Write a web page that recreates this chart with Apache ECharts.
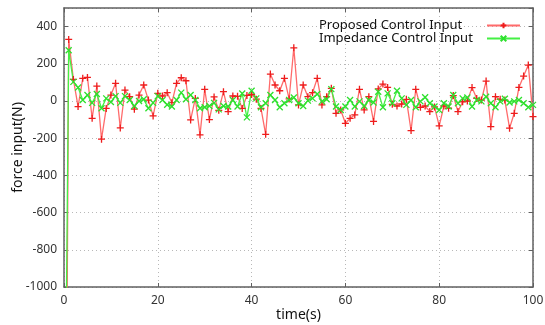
<!DOCTYPE html>
<html>
<head>
<meta charset="utf-8">
<script src="https://cdn.jsdelivr.net/npm/echarts@6/dist/echarts.min.js"></script>
<style>
html, body { margin:0; padding:0; background:#fff; }
#chart { width:545px; height:325px; }
</style>
</head>
<body>
<div id="chart"></div>
<script>
// time axis ticks and force axis ticks
const xTicks = [0, 20, 40, 60, 80, 100];
const yTicks = [-1000, -800, -600, -400, -200, 0, 200, 400];
const yMax = 500;

// one sample per second, t = 0..100 (t=0 lies far below the axis)
const proposed = [
    -4000, 331, 116, -30, 122, 127, -93, 80, -205, -40,
    32, 95, -145, 59, 23, -44, 32, 86, 5, -80,
    41, 27, 45, -9, 95, 125, 109, -102, 14, -182,
    63, -100, 22, -50, 50, -57, 27, 25, -40, 30,
    35, 10, -40, -179, 145, 86, 55, 122, 11, 286,
    -21, 86, 23, 45, 122, -21, 23, 68, -66, -48,
    -120, -93, -75, 63, -48, 23, -110, 65, 91, 73,
    -18, -27, -16, 9, -159, 63, -34, -27, -57, -32,
    -134, -27, -39, 29, -57, -4, 0, 72, 14, 5,
    107, -138, 23, 9, 5, -146, -66, 73, 134, 193,
    -84
];
const impedance = [
    -2500, 273, 103, 73, 5, 32, -10, 38, -39, 14,
    -5, 26, -10, 26, 5, -27, 0, 9, -39, -10,
    26, 5, -20, -30, 5, 45, 9, 32, 5, -39,
    -34, -27, -10, -45, -27, -30, 5, -30, 40, -88,
    55, 14, -34, -12, 32, 5, -34, -12, 5, 19,
    -12, -27, 2, 14, 38, -2, 9, 64, -30, -48,
    -30, 5, -30, -2, -27, 5, -8, 50, -34, 41,
    -12, 55, 14, -21, 5, -34, -2, 20, -12, -30,
    -48, -12, -30, 32, -12, 14, 19, -30, 5, -2,
    23, -12, -34, -2, 12, -8, -2, 5, -12, -34,
    -21
];
const seriesNames = ['Proposed Control Input', 'Impedance Control Input'];

const font = '"Noto Sans", "DejaVu Sans", sans-serif';
const axisColor = '#606060';
const gridLine = { show:true, lineStyle:{ color:'#b8b8b8', type:[1,3], width:1 } };
const tick = { show:true, inside:true, length:4, lineStyle:{ color:axisColor } };
const border = { show:true, onZero:false, lineStyle:{ color:axisColor, width:1.5 } };

const chart = echarts.init(document.getElementById('chart'));
chart.setOption({
    animation:false,
    textStyle:{ fontFamily:font },
    grid:{ left:64, right:12, top:8, bottom:38, containLabel:false, outerBoundsMode:'none' },
    legend:{
        orient:'vertical',
        left:314,
        top:14,
        align:'right',
        itemWidth:33,
        itemHeight:7,
        itemGap:0,
        data:seriesNames,
        formatter:'{a|{name}}',
        textStyle:{
            rich:{ a:{ width:163, align:'left', fontSize:13, color:'#111', fontFamily:font, lineHeight:14 } }
        }
    },
    xAxis:[{
        type:'value',
        min:xTicks[0],
        max:xTicks[xTicks.length-1],
        interval:xTicks[1]-xTicks[0],
        name:'time(s)',
        nameLocation:'middle',
        nameGap:21,
        nameMoveOverlap:false,
        nameTextStyle:{ fontSize:14, color:'#111' },
        axisLine:border,
        axisTick:tick,
        axisLabel:{ fontSize:12, color:'#333', margin:8, formatter:v=>String(v) },
        splitLine:gridLine
    },{
        type:'value',
        position:'top',
        min:xTicks[0],
        max:xTicks[xTicks.length-1],
        interval:xTicks[1]-xTicks[0],
        axisLine:border,
        axisTick:tick,
        axisLabel:{ show:false },
        splitLine:{ show:false }
    }],
    yAxis:[{
        type:'value',
        min:yTicks[0],
        max:yMax,
        interval:yTicks[1]-yTicks[0],
        name:'force input(N)',
        nameLocation:'middle',
        nameGap:39,
        nameMoveOverlap:false,
        nameTextStyle:{ fontSize:14, color:'#111' },
        axisLine:border,
        axisTick:tick,
        axisLabel:{ fontSize:12, color:'#333', margin:7, showMaxLabel:false, formatter:v=>String(v) },
        splitLine:gridLine
    },{
        type:'value',
        position:'right',
        min:yTicks[0],
        max:yMax,
        interval:yTicks[1]-yTicks[0],
        axisLine:border,
        axisTick:tick,
        axisLabel:{ show:false },
        splitLine:{ show:false }
    }],
    series:[{
        type:'line',
        name:seriesNames[0],
        data:proposed.map((v,i)=>[i,v]),
        symbol:'path://M0,4L8,4M4,0L4,8',
        symbolSize:7,
        showSymbol:true,
        clip:true,
        lineStyle:{ color:'#ff6b6b', width:1.3 },
        itemStyle:{ color:'#ee1c1c', borderColor:'#ee1c1c', borderWidth:1.3 }
    },{
        type:'line',
        name:seriesNames[1],
        data:impedance.map((v,i)=>[i,v]),
        symbol:'path://M0,0L8,8M8,0L0,8',
        symbolSize:6,
        showSymbol:true,
        clip:true,
        lineStyle:{ color:'#44f044', width:1.3 },
        itemStyle:{ color:'#2ee02e', borderColor:'#2ee02e', borderWidth:1.3 }
    }]
});
</script>
</body>
</html>
